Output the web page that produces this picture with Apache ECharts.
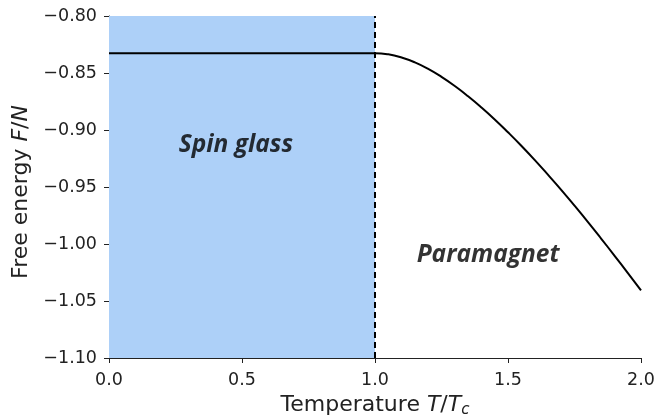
<!DOCTYPE html>
<html>
<head>
<meta charset="utf-8">
<script src="https://cdn.jsdelivr.net/npm/echarts@6/dist/echarts.min.js"></script>
<style>html,body{margin:0;padding:0;background:#fff}#c{width:670px;height:420px}</style>
</head>
<body>
<div id="c"></div>
<script>
// Data
const temps = [0.0, 0.5, 1.0, 1.05, 1.1, 1.15, 1.2, 1.25, 1.3, 1.35, 1.4, 1.45, 1.5, 1.55, 1.6, 1.65, 1.7, 1.75, 1.8, 1.85, 1.9, 1.95, 2.0];
const freeEnergy = [-0.8326, -0.8326, -0.8326, -0.8336, -0.8364, -0.8407, -0.8464, -0.8534, -0.8614, -0.8704, -0.8802, -0.8907, -0.9020, -0.9138, -0.9262, -0.9392, -0.9525, -0.9664, -0.9806, -0.9952, -1.0101, -1.0253, -1.0407];
const transitionT = 1.0;
const spinGlassRange = [0.0, 1.0];
const xTicks = [0.0, 0.5, 1.0, 1.5, 2.0];
const yTicks = [-1.10, -1.05, -1.00, -0.95, -0.90, -0.85, -0.80];
const phaseLabels = ['Spin glass', 'Paramagnet'];
const phaseLabelX = [0.477, 1.425];
const phaseLabelY = [-0.913, -1.010];

const chart = echarts.init(document.getElementById('c'), null, {renderer: 'canvas'});
const tickFont = {fontFamily: 'DejaVu Sans', fontSize: 17.5, color: '#222'};
const axisCommon = {
  axisLine: {show: true, lineStyle: {color: '#222', width: 1}},
  axisTick: {show: true, inside: false, length: 5, lineStyle: {color: '#222'}},
  splitLine: {show: false}
};
chart.setOption({
  animation: false,
  backgroundColor: '#fff',
  grid: {left: 109, right: 29, top: 16, bottom: 62, containLabel: false, outerBoundsMode: 'none'},
  xAxis: Object.assign({
    type: 'value', min: xTicks[0], max: xTicks[xTicks.length - 1], interval: 0.5,
    axisLabel: Object.assign({margin: 13, formatter: v => v.toFixed(1)}, tickFont),
    name: '{n|Temperature }{i|T}{n|/}{i|T}{s|c}',
    nameLocation: 'middle', nameGap: 35,
    nameTextStyle: {
      rich: {
        n: {fontFamily: 'DejaVu Sans', fontSize: 22, color: '#222'},
        i: {fontFamily: 'DejaVu Sans', fontSize: 22, fontStyle: 'italic', color: '#222'},
        s: {fontFamily: 'DejaVu Sans', fontSize: 15, fontStyle: 'italic', color: '#222', padding: [10, 0, 0, 0]}
      }
    }
  }, axisCommon),
  yAxis: Object.assign({
    type: 'value', min: yTicks[0], max: yTicks[yTicks.length - 1], interval: 0.05,
    axisLabel: Object.assign({margin: 12, formatter: v => v.toFixed(2).replace('-', '\u2212')}, tickFont),
    name: '{n|Free energy }{i|F}{n|/}{i|N}',
    nameLocation: 'middle', nameGap: 76, nameRotate: 90,
    nameTextStyle: {
      padding: [0, 10, 0, 0],
      rich: {
        n: {fontFamily: 'DejaVu Sans', fontSize: 22, color: '#222'},
        i: {fontFamily: 'DejaVu Sans', fontSize: 22, fontStyle: 'italic', color: '#222'}
      }
    }
  }, axisCommon),
  series: [{
    type: 'line',
    data: temps.map((t, i) => [t, freeEnergy[i]]),
    smooth: true,
    showSymbol: false,
    lineStyle: {color: '#000', width: 2},
    z: 3,
    markArea: {
      silent: true,
      itemStyle: {color: '#add0f8', opacity: 1},
      data: [[{xAxis: spinGlassRange[0], yAxis: yTicks[0]}, {xAxis: spinGlassRange[1], yAxis: yTicks[yTicks.length - 1]}]]
    },
    markLine: {
      silent: true, symbol: ['none', 'none'],
      label: {show: false},
      lineStyle: {color: '#000', width: 2, type: [6, 4]},
      data: [{xAxis: transitionT}]
    }
  }, {
    type: 'scatter',
    silent: true,
    symbolSize: 0,
    z: 5,
    data: phaseLabels.map((n, i) => ({name: n, value: [phaseLabelX[i], phaseLabelY[i]]})),
    label: {
      show: true, position: 'inside',
      fontFamily: 'Open Sans', fontWeight: 'bold', fontStyle: 'italic', fontSize: 24.5, color: '#000',
      textBorderWidth: 0,
      formatter: p => p.name
    }
  }]
});
</script>
</body>
</html>
